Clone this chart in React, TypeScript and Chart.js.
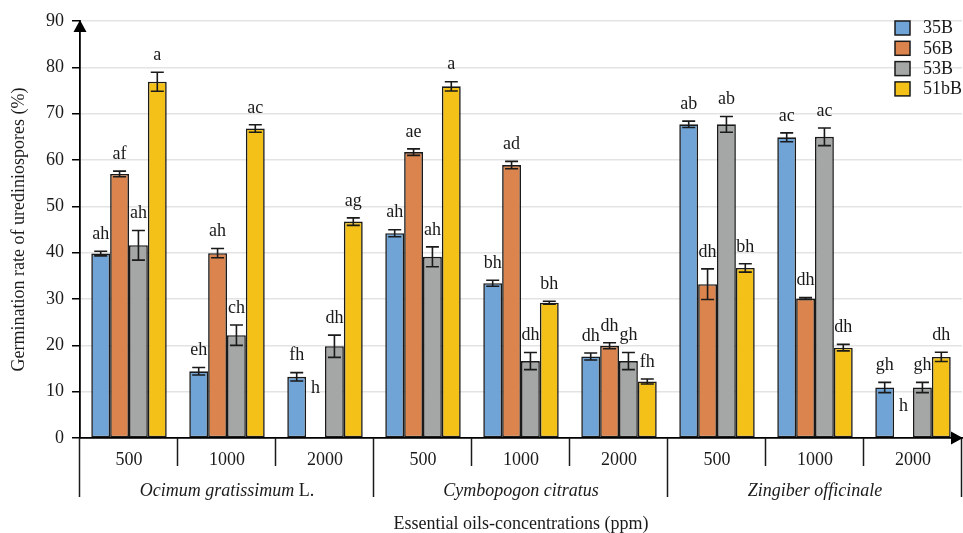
import React, { useEffect, useRef } from "react";
import { Chart, registerables } from "chart.js";
Chart.register(...registerables);

const concentrations = ["500", "1000", "2000", "500", "1000", "2000", "500", "1000", "2000"];
const oils = ["Ocimum gratissimum", "Cymbopogon citratus", "Zingiber officinale"];
const oilSuffix = [" L.", "", ""];
const seriesNames = ["35B", "56B", "53B", "51bB"];
const seriesColors = ["#70A4D6", "#DB844D", "#A5A7A7", "#F3C118"];

const v35B = [39.8, 14.4, 13.2, 44.2, 33.4, 17.6, 67.7, 64.9, 10.9];
const e35B = [0.5, 0.8, 0.9, 0.75, 0.65, 0.75, 0.7, 0.95, 1.1];
const v56B = [57.0, 39.9, 0, 61.7, 58.9, 19.9, 33.2, 30.1, 0];
const e56B = [0.6, 1.0, 0, 0.7, 0.8, 0.65, 3.3, 0.2, 0];
const v53B = [41.6, 22.2, 19.8, 39.1, 16.6, 16.6, 67.7, 65.0, 10.9];
const e53B = [3.2, 2.2, 2.4, 2.15, 1.85, 1.85, 1.7, 1.9, 1.1];
const v51bB = [76.9, 66.8, 46.7, 75.9, 29.2, 12.2, 36.7, 19.5, 17.5];
const e51bB = [2.05, 0.8, 0.8, 1.0, 0.3, 0.55, 0.9, 0.7, 1.0];

const l35B = ["ah", "eh", "fh", "ah", "bh", "dh", "ab", "ac", "gh"];
const l56B = ["af", "ah", "h", "ae", "ad", "dh", "dh", "dh", "h"];
const l53B = ["ah", "ch", "dh", "ah", "dh", "gh", "ab", "ac", "gh"];
const l51bB = ["a", "ac", "ag", "a", "bh", "fh", "bh", "dh", "dh"];
// where the letters for the empty (0 %) bars sit, in % units
const emptyLabelAnchor56B = [0, 0, 7.1, 0, 0, 0, 0, 0, 3.2];

const values = [v35B, v56B, v53B, v51bB];
const errors = [e35B, e56B, e53B, e51bB];
const letters = [l35B, l56B, l53B, l51bB];

const yTicks = [0, 10, 20, 30, 40, 50, 60, 70, 80, 90];

const FONT = "'Liberation Serif', 'Times New Roman', serif";
const INK = "#1a1a1a";

const overlay = {
  id: "overlay",
  afterDatasetsDraw(chart: any) {
    const ctx = chart.ctx as CanvasRenderingContext2D;
    const xs = chart.scales.x;
    const ys = chart.scales.y;
    const area = chart.chartArea;
    ctx.save();

    // error bars + letters
    ctx.strokeStyle = INK;
    ctx.lineWidth = 1.6;
    ctx.font = `18px ${FONT}`;
    ctx.fillStyle = INK;
    ctx.textAlign = "center";
    ctx.textBaseline = "middle";
    values.forEach((vals, di) => {
      const meta = chart.getDatasetMeta(di);
      vals.forEach((v, i) => {
        const bar = meta.data[i];
        const x = bar.x;
        const e = errors[di][i];
        if (e > 0) {
          const yt = ys.getPixelForValue(v + e);
          const yb = ys.getPixelForValue(v - e);
          ctx.beginPath();
          ctx.moveTo(x, yt);
          ctx.lineTo(x, yb);
          ctx.moveTo(x - 6.5, yt);
          ctx.lineTo(x + 6.5, yt);
          ctx.moveTo(x - 6.5, yb);
          ctx.lineTo(x + 6.5, yb);
          ctx.stroke();
        }
        let anchor = v + e;
        if (di === 1 && v === 0) anchor = emptyLabelAnchor56B[i];
        const ya = ys.getPixelForValue(anchor);
        ctx.fillText(letters[di][i], x, ya - 17);
      });
    });

    // x axis separators
    const n = concentrations.length;
    const w = (xs.right - xs.left) / n;
    ctx.strokeStyle = INK;
    ctx.lineWidth = 1.5;
    for (let i = 0; i <= n; i++) {
      const x = Math.round(xs.left + i * w) - 0.5;
      const long = i % 3 === 0;
      ctx.beginPath();
      ctx.moveTo(x, area.bottom);
      ctx.lineTo(x, long ? area.bottom + 59 : area.bottom + 28);
      ctx.stroke();
    }

    // group labels
    ctx.textBaseline = "middle";
    ctx.textAlign = "left";
    oils.forEach((name, g) => {
      const cx = xs.left + (g * 3 + 1.5) * w;
      ctx.font = `italic 18px ${FONT}`;
      const w1 = ctx.measureText(name).width;
      ctx.font = `18px ${FONT}`;
      const w2 = ctx.measureText(oilSuffix[g]).width;
      const start = cx - (w1 + w2) / 2;
      ctx.font = `italic 18px ${FONT}`;
      ctx.fillText(name, start, area.bottom + 53);
      ctx.font = `18px ${FONT}`;
      ctx.fillText(oilSuffix[g], start + w1, area.bottom + 53);
    });

    // arrows
    ctx.fillStyle = "#000";
    ctx.beginPath();
    ctx.moveTo(area.left, area.top - 1);
    ctx.lineTo(area.left - 6.5, area.top + 11);
    ctx.lineTo(area.left + 6.5, area.top + 11);
    ctx.closePath();
    ctx.fill();
    ctx.beginPath();
    ctx.moveTo(area.right + 1, area.bottom);
    ctx.lineTo(area.right - 11, area.bottom - 6.5);
    ctx.lineTo(area.right - 11, area.bottom + 6.5);
    ctx.closePath();
    ctx.fill();

    // legend
    ctx.font = `18px ${FONT}`;
    ctx.textAlign = "left";
    ctx.textBaseline = "middle";
    seriesNames.forEach((s, i) => {
      const y = 21 + i * 20.3;
      ctx.fillStyle = seriesColors[i];
      ctx.fillRect(895, y, 15, 14);
      ctx.strokeStyle = INK;
      ctx.lineWidth = 1.5;
      ctx.strokeRect(895, y, 15, 14);
      ctx.fillStyle = INK;
      ctx.fillText(s, 923, y + 7.5);
    });
    ctx.restore();
  },
};

export default function App() {
  const ref = useRef<HTMLCanvasElement>(null);
  useEffect(() => {
    if (!ref.current) return;
    const chart = new Chart(ref.current, {
      type: "bar",
      data: {
        labels: concentrations,
        datasets: seriesNames.map((name, i) => ({
          label: name,
          data: values[i],
          backgroundColor: seriesColors[i],
          borderColor: INK,
          borderWidth: 1.6,
          borderSkipped: false,
          categoryPercentage: 0.77,
          barPercentage: 1.0,
        })),
      },
      options: {
        responsive: false,
        animation: false,
        layout: { padding: { top: 21, right: 1, left: 0, bottom: 0 } },
        plugins: { legend: { display: false }, tooltip: { enabled: false } },
        scales: {
          x: {
            grid: { display: false, drawTicks: false },
            border: { display: true, color: "#000", width: 1.8 },
            ticks: { color: INK, font: { family: FONT, size: 18 }, padding: 11, maxRotation: 0, autoSkip: false },
            title: {
              display: true,
              text: "Essential oils-concentrations (ppm)",
              color: INK,
              font: { family: FONT, size: 18 },
              padding: { top: 0, bottom: -2 },
            },
            afterFit: (s: any) => {
              s.height = 95;
            },
          },
          y: {
            min: 0,
            max: 90,
            afterBuildTicks: (s: any) => {
              s.ticks = yTicks.map((v) => ({ value: v }));
            },
            grid: { color: "#e3e3e3", lineWidth: 1.5, tickColor: "#000", tickLength: 8, tickWidth: 1.5 },
            border: { display: true, color: "#000", width: 1.8 },
            ticks: { color: INK, font: { family: FONT, size: 18 }, padding: 8 },
            title: {
              display: true,
              text: "Germination rate of urediniospores (%)",
              color: INK,
              font: { family: FONT, size: 18 },
              padding: { top: 8, bottom: 0 },
            },
            afterFit: (s: any) => {
              s.width = 80;
            },
          },
        },
      },
      plugins: [overlay],
    });
    return () => chart.destroy();
  }, []);
  return (
    <div style={{ position: "absolute", left: 0, top: 0, width: 963, height: 533, background: "#fff" }}>
      <canvas ref={ref} width={963} height={533} />
    </div>
  );
}
